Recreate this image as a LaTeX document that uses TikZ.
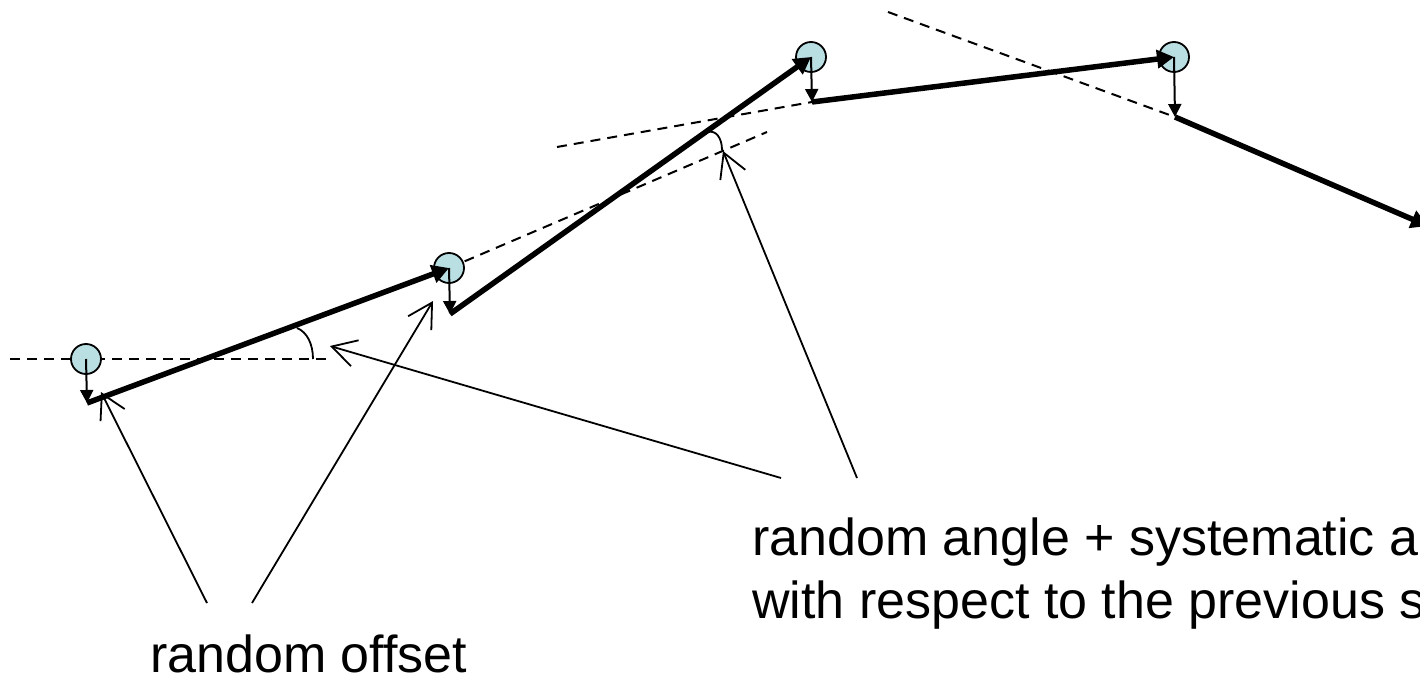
\documentclass[tikz,border=0pt]{standalone}
\usepackage{fontspec}
\setmainfont{Liberation Sans}
\usetikzlibrary{arrows.meta}
\definecolor{dotfill}{RGB}{186,223,227}
\begin{document}
\begin{tikzpicture}[x=1pt,y=-1pt,
  prevdir/.style={line width=2pt, dash pattern=on 10pt off 7pt},
  dot/.style={circle, draw, line width=1.8pt, fill=dotfill, minimum size=30pt, inner sep=0pt},
  stepline/.style={line width=5.5pt, -{Triangle[length=17pt,width=18pt]}},
  offsetarrow/.style={line width=2pt, -{Triangle[length=13pt,width=13pt]}},
  pointer/.style={line width=1.8pt, -{Straight Barb[length=24pt,width=27pt]}},
  anglearc/.style={line width=1.8pt},
  lbl/.style={font=\fontsize{52}{63}\selectfont, inner sep=0pt, anchor=base west}]
\path[use as bounding box] (0,0) rectangle (1420,676);
\clip (0,0) rectangle (1420,676);

% step start points (after offset)
\coordinate (s1) at (87,403);
\coordinate (s2) at (450,314);
\coordinate (s3) at (812,102);
\coordinate (s4) at (1175,117);
\coordinate (e4) at (1428,226);

% dashed direction lines
\coordinate (d1a) at (10,359);
\coordinate (d1b) at (328,359);
\coordinate (d2b) at (767,132);
\coordinate (d3a) at (557,147);
\coordinate (d4a) at (888,12);

\draw[prevdir] (d1a) -- (d1b);
\draw[prevdir] (449,268) -- (d2b);
\draw[prevdir] (d3a) -- (s3);
\draw[prevdir] (d4a) -- (s4);

% points
\node[dot] (c1) at (86,359) {};
\node[dot] (c2) at (449,268) {};
\node[dot] (c3) at (811,57) {};
\node[dot] (c4) at (1174,57) {};

% steps
\draw[stepline] (s1) -- (c2.center);
\draw[stepline] (s2) -- (c3.center);
\draw[stepline] (s3) -- (c4.center);
\draw[stepline] (s4) -- (e4);

% offsets
\draw[offsetarrow] (c1.center) -- (s1);
\draw[offsetarrow] (c2.center) -- (s2);
\draw[offsetarrow] (c3.center) -- (s3);
\draw[offsetarrow] (c4.center) -- (s4);

% angle arcs
\coordinate (a1s) at (297,328);
\coordinate (a1e) at (313,359);
\coordinate (a2s) at (708,132);
\coordinate (a2e) at (722,150);
\draw[anglearc] (a1s) .. controls (307,332) and (313,344) .. (a1e);
\draw[anglearc] (a2s) .. controls (716,130) and (722,138) .. (a2e);

% labels
\node[lbl, text depth=0pt] (offsettext) at (150,672) {random offset};
\node[lbl] (angletext1) at (752,555) {random angle + systematic angle};
\node[lbl] (angletext2) at (752,618) {with respect to the previous step};

% pointers
\coordinate (p1s) at (207,603);
\coordinate (p1e) at (101,392);
\coordinate (p2s) at (252,603);
\coordinate (p2e) at (433,301);
\coordinate (p3s) at (781,478);
\coordinate (p3e) at (330,346);
\coordinate (p4s) at (857,478);
\coordinate (p4e) at (723,151);
\draw[pointer] (p1s) -- (p1e);
\draw[pointer] (p2s) -- (p2e);
\draw[pointer] (p3s) -- (p3e);
\draw[pointer] (p4s) -- (p4e);
\end{tikzpicture}
\end{document}
